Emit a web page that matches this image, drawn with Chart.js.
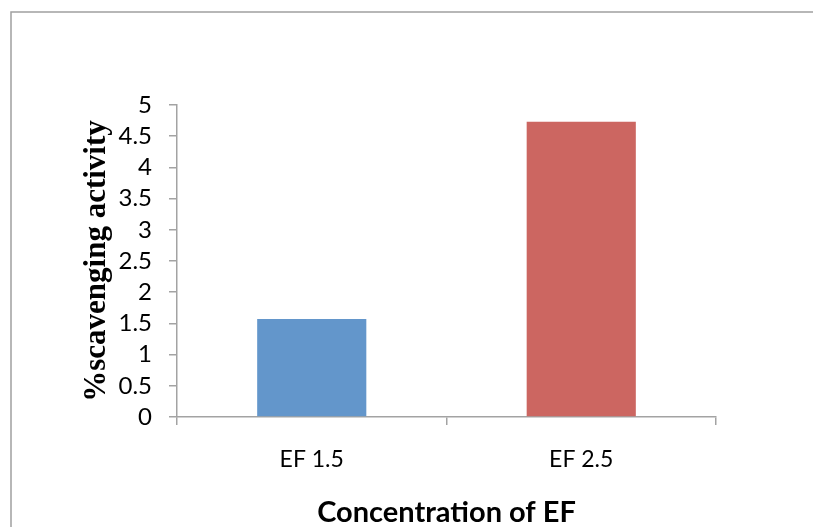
<!DOCTYPE html>
<html>
<head>
<meta charset="utf-8">
<script src="https://cdn.jsdelivr.net/npm/chart.js@4.4.1/dist/chart.umd.min.js"></script>
<style>
  html, body { margin: 0; padding: 0; background: #ffffff; }
  #wrap { width: 813px; height: 527px; position: relative; }
</style>
</head>
<body>
<div id="wrap"><canvas id="chart" width="813" height="527"></canvas></div>
<script>
// Scavenging activity measured for two EF concentrations
const categories = ['EF 1.5', 'EF 2.5'];
const scavenging = [1.57, 4.73];
const barColors = ['#6396CB', '#CC6661'];
const yTitle = '%scavenging activity';
const xTitle = 'Concentration of EF';

const axisGray = '#a3a3a3';

// Light gray frame around the whole chart
const framePlugin = {
  id: 'frame',
  beforeDraw(chart) {
    const ctx = chart.ctx;
    ctx.save();
    ctx.fillStyle = '#ffffff';
    ctx.fillRect(0, 0, chart.width, chart.height);
    ctx.strokeStyle = '#a0a0a0';
    ctx.lineWidth = 1.5;
    ctx.strokeRect(11, 12, chart.width + 20, chart.height + 20);
    ctx.restore();
  }
};

new Chart(document.getElementById('chart'), {
  type: 'bar',
  data: {
    labels: categories,
    datasets: [{
      data: scavenging,
      backgroundColor: barColors,
      borderWidth: 0,
      categoryPercentage: 1.0,
      barPercentage: 0.405
    }]
  },
  options: {
    responsive: false,
    animation: false,
    devicePixelRatio: 1,
    layout: { padding: { top: 105, right: 97, left: 0, bottom: 0 } },
    plugins: {
      legend: { display: false },
      tooltip: { enabled: false }
    },
    scales: {
      x: {
        afterFit(scale) { scale.height = 110; },
        grid: {
          offset: true,
          drawOnChartArea: false,
          drawTicks: true,
          tickLength: 8,
          color: axisGray,
          lineWidth: 1.5
        },
        border: { display: true, color: axisGray, width: 1.5 },
        ticks: {
          color: '#000000',
          padding: 21,
          font: { family: 'Lato', size: 23 }
        },
        title: {
          display: true,
          text: xTitle,
          color: '#000000',
          font: { family: 'Lato', size: 29, weight: 'bold', lineHeight: 1.0 },
          padding: { top: 0, bottom: 0 }
        }
      },
      y: {
        min: 0,
        max: 5,
        afterFit(scale) { scale.width = 177; },
        grid: {
          drawOnChartArea: false,
          drawTicks: true,
          tickLength: 8,
          color: axisGray,
          lineWidth: 1.5
        },
        border: { display: true, color: axisGray, width: 1.5 },
        ticks: {
          stepSize: 0.5,
          autoSkip: false,
          color: '#000000',
          padding: 17,
          font: { family: 'Lato', size: 24, lineHeight: 1.0 },
          callback: (v) => String(Math.round(v * 10) / 10)
        },
        title: {
          display: true,
          text: yTitle,
          color: '#000000',
          font: { family: 'Liberation Serif', size: 31, weight: 'bold', lineHeight: 1.2 },
          padding: { top: 78, bottom: 0 }
        }
      }
    }
  },
  plugins: [framePlugin]
});
</script>
</body>
</html>
